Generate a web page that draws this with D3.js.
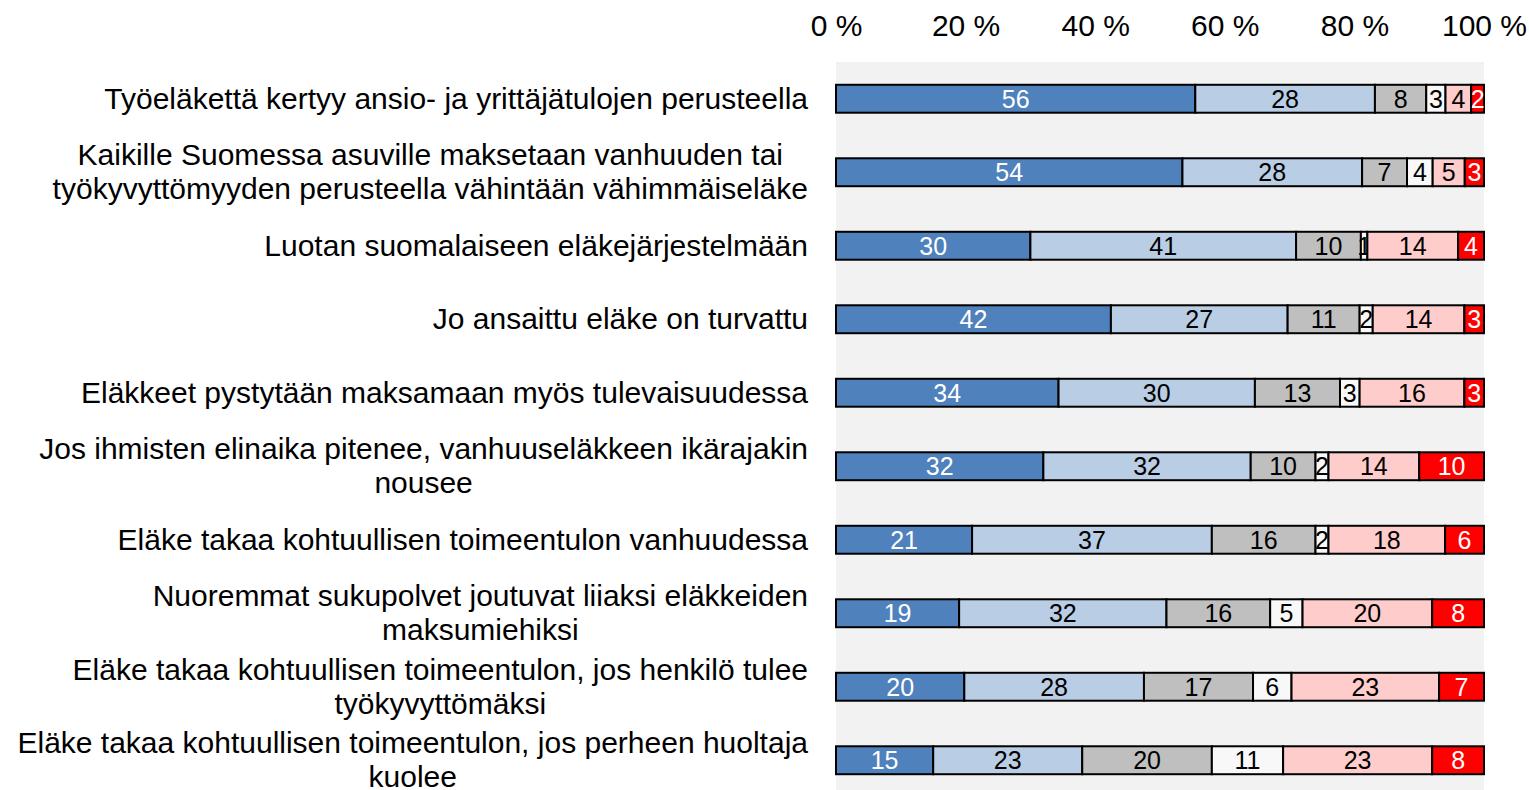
<!DOCTYPE html>
<html>
<head>
<meta charset="utf-8">
<script src="https://cdn.jsdelivr.net/npm/d3@7"></script>
<style>
  body { margin: 0; background: #fff; }
  svg { display: block; font-family: "Liberation Sans", Arial, sans-serif; }
</style>
</head>
<body>
<div id="chart"></div>
<script>
// categories, top to bottom ("\n" = line break as in the original)
var categories = [
  "Työeläkettä kertyy ansio- ja yrittäjätulojen perusteella",
  "Kaikille Suomessa asuville maksetaan vanhuuden tai\ntyökyvyttömyyden perusteella vähintään vähimmäiseläke",
  "Luotan suomalaiseen eläkejärjestelmään",
  "Jo ansaittu eläke on turvattu",
  "Eläkkeet pystytään maksamaan myös tulevaisuudessa",
  "Jos ihmisten elinaika pitenee, vanhuuseläkkeen ikärajakin\nnousee",
  "Eläke takaa kohtuullisen toimeentulon vanhuudessa",
  "Nuoremmat sukupolvet joutuvat liiaksi eläkkeiden\nmaksumiehiksi",
  "Eläke takaa kohtuullisen toimeentulon, jos henkilö tulee\ntyökyvyttömäksi",
  "Eläke takaa kohtuullisen toimeentulon, jos perheen huoltaja\nkuolee"
];

// the six answer series (same order as categories)
var s1 = [56, 54, 30, 42, 34, 32, 21, 19, 20, 15];
var s2 = [28, 28, 41, 27, 30, 32, 37, 32, 28, 23];
var s3 = [8, 7, 10, 11, 13, 10, 16, 16, 17, 20];
var s4 = [3, 4, 1, 2, 3, 2, 2, 5, 6, 11];
var s5 = [4, 5, 14, 14, 16, 14, 18, 20, 23, 23];
var s6 = [2, 3, 4, 3, 3, 10, 6, 8, 7, 8];

var seriesKeys = ["s1", "s2", "s3", "s4", "s5", "s6"];
var seriesColors = ["#4f81bd", "#b9cde5", "#bfbfbf", "#f8f8f8", "#ffcccc", "#ff0000"];
var labelColors = ["#fff", "#000", "#000", "#000", "#000", "#fff"];

var tickValues = [0, 0.2, 0.4, 0.6, 0.8, 1];

var width = 1529, height = 790;
var plot = { left: 836, right: 1484, top: 62, bottom: 797 };

var rows = categories.map(function(c, i) {
  return { cat: c, s1: s1[i], s2: s2[i], s3: s3[i], s4: s4[i], s5: s5[i], s6: s6[i] };
});

// rows don't always sum to exactly 100, the bars still fill the width
var stack = d3.stack().keys(seriesKeys).offset(d3.stackOffsetExpand);
var stacked = stack(rows);

var x = d3.scaleLinear().domain([0, 1]).range([plot.left, plot.right]);
var y = d3.scaleBand().domain(categories).range([plot.top, plot.bottom])
  .paddingInner(0.62).paddingOuter(0.31);

var svg = d3.select("#chart").append("svg")
  .attr("width", width)
  .attr("height", height);

// plot area background
svg.append("rect")
  .attr("x", plot.left)
  .attr("y", plot.top)
  .attr("width", plot.right - plot.left)
  .attr("height", plot.bottom - plot.top)
  .style("fill", "#f2f2f2");

// top axis
var xAxis = svg.append("g")
  .attr("transform", "translate(0," + plot.top + ")")
  .call(d3.axisTop(x).tickValues(tickValues).tickSize(0).tickPadding(26)
    .tickFormat(function(d) { return Math.round(d * 100) + " %"; }));
xAxis.select(".domain").remove();
xAxis.selectAll("text")
  .style("font-family", "\"Liberation Sans\", Arial, sans-serif")
  .style("font-size", "30px")
  .style("fill", "#000");

// bars
var layers = svg.selectAll("g.layer")
  .data(stacked)
  .enter().append("g")
  .attr("class", "layer")
  .style("fill", function(d, i) { return seriesColors[i]; });

layers.selectAll("rect")
  .data(function(d) { return d; })
  .enter().append("rect")
  .attr("x", function(d) { return x(d[0]); })
  .attr("y", function(d) { return y(d.data.cat); })
  .attr("width", function(d) { return x(d[1]) - x(d[0]); })
  .attr("height", y.bandwidth())
  .style("stroke", "#000")
  .style("stroke-width", 2);

// value labels
layers.selectAll("text")
  .data(function(d, i) { return d.map(function(p) { return { p: p, key: d.key, i: i }; }); })
  .enter().append("text")
  .attr("x", function(d) { return (x(d.p[0]) + x(d.p[1])) / 2; })
  .attr("y", function(d) { return y(d.p.data.cat) + y.bandwidth() / 2; })
  .attr("dy", "0.36em")
  .attr("text-anchor", "middle")
  .style("font-size", "25px")
  .style("fill", function(d) { return labelColors[d.i]; })
  .text(function(d) { return d.p.data[d.key]; });

// category labels: block right-aligned, lines centred within the block
var labelRight = 808, lineHeight = 34;
categories.forEach(function(c) {
  var lines = c.split("\n");
  var cy = y(c) + y.bandwidth() / 2;
  var t = svg.append("text")
    .attr("text-anchor", "middle")
    .style("font-size", "30px")
    .style("fill", "#000");
  var spans = lines.map(function(line, k) {
    return t.append("tspan")
      .attr("y", cy + (k - (lines.length - 1) / 2) * lineHeight)
      .attr("dy", "0.34em")
      .text(line);
  });
  var maxW = d3.max(spans, function(s) { return s.node().getComputedTextLength(); });
  spans.forEach(function(s) { s.attr("x", labelRight - maxW / 2); });
});
</script>
</body>
</html>
